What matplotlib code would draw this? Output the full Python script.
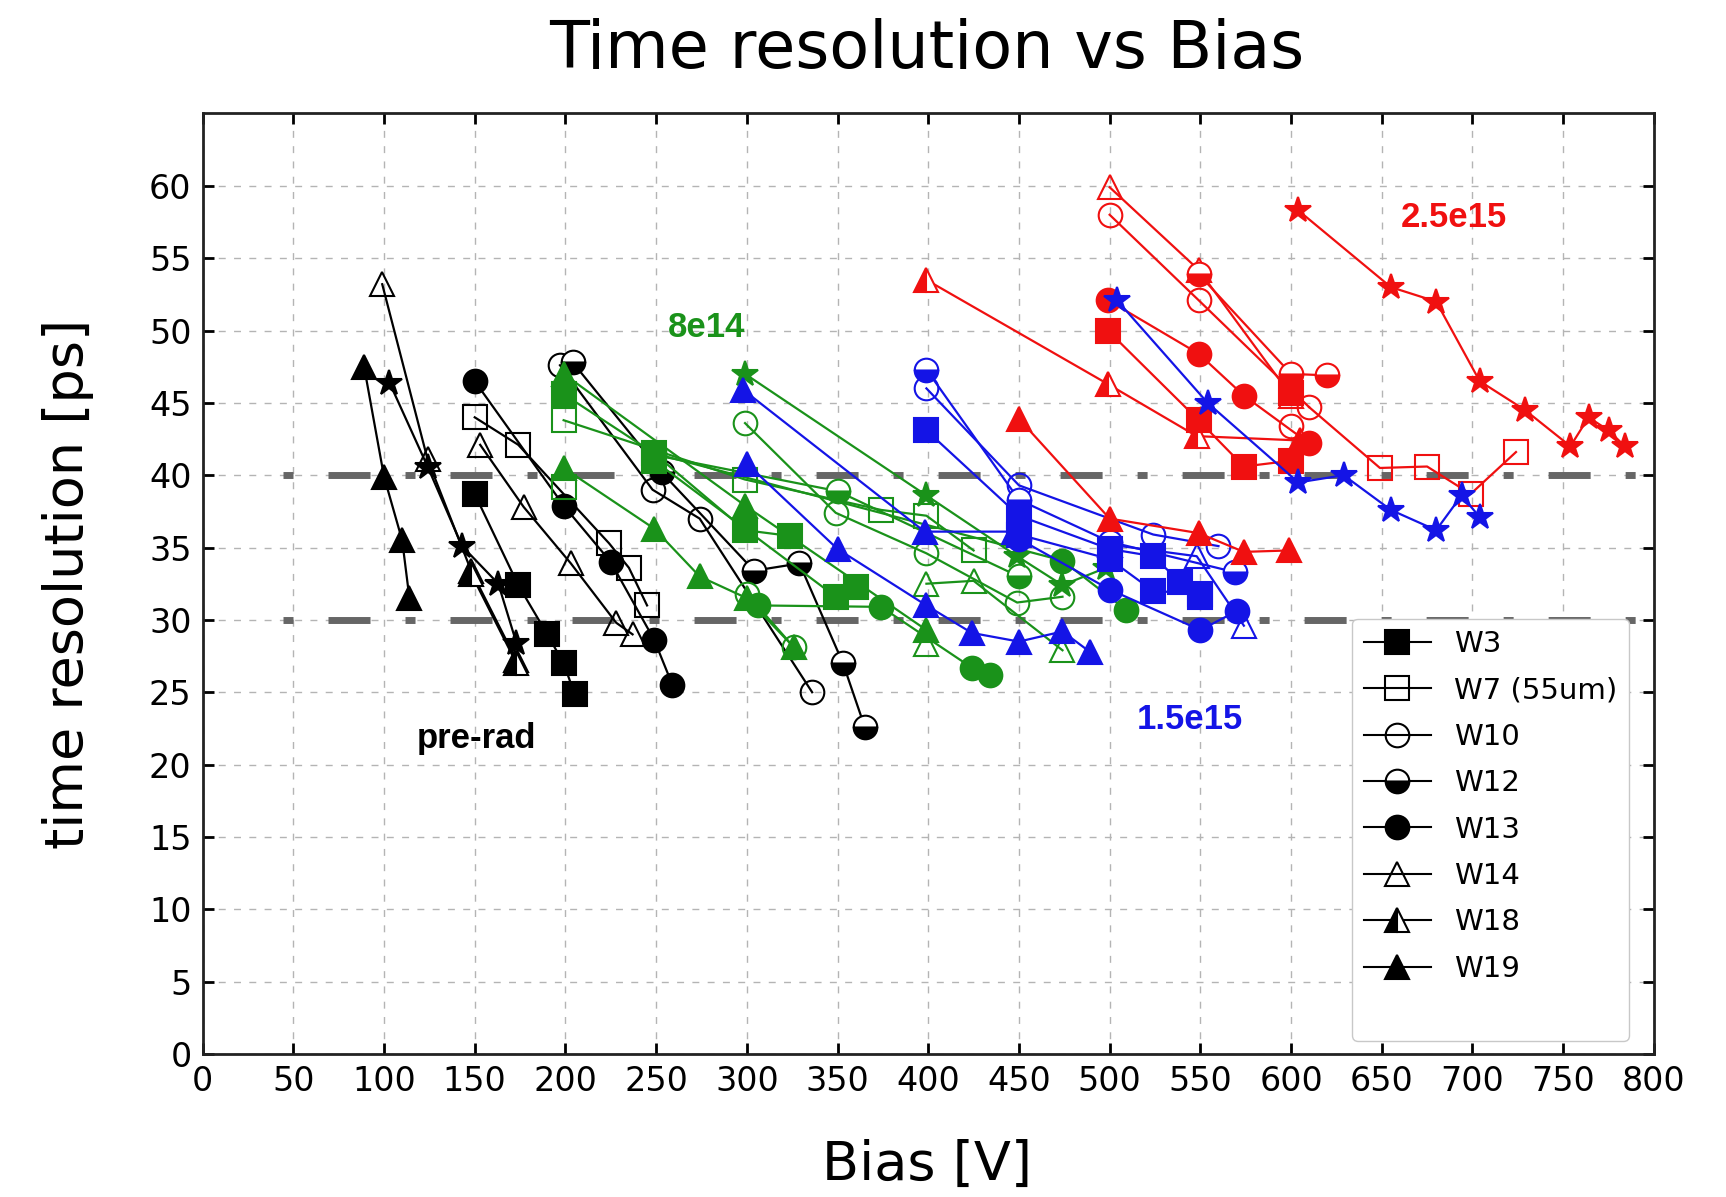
import matplotlib
matplotlib.use("Agg")
import matplotlib.pyplot as plt
from matplotlib.lines import Line2D

# (bias [V], time resolution [ps]) per device
# pre-rad (black)
k_W3 = ([150, 174, 190, 199, 205], [38.7, 32.4, 29.0, 27.0, 24.9])
k_W7 = ([150, 174, 224, 235, 245], [44.0, 42.1, 35.3, 33.6, 31.0])
k_W10 = ([197, 248, 274, 336], [47.6, 39.0, 37.0, 25.0])
k_W12 = ([204, 253, 304, 329, 353, 365], [47.8, 40.2, 33.4, 33.9, 27.0, 22.6])
k_W13 = ([150, 199, 225, 249, 259], [46.5, 37.9, 34.0, 28.6, 25.5])
k_W14a = ([99, 124, 148, 173], [53.2, 41.1, 33.4, 27.2])
k_W14b = ([153, 177, 203, 228, 237], [42.1, 37.8, 33.9, 29.8, 29.0])
k_W18 = ([148, 173], [33.2, 27.0])
k_W19 = ([89, 100, 110, 114], [47.5, 39.9, 35.5, 31.5])
k_star = ([103, 124, 143, 163, 173], [46.4, 40.6, 35.1, 32.5, 28.4])

# 8e14 (green)
g_W3a = ([199, 249, 299, 324], [45.6, 41.5, 36.2, 35.8])
g_W3b = ([249, 349, 360], [41.0, 31.6, 32.3])
g_W7a = ([199, 299, 374, 399, 425], [43.8, 39.7, 37.6, 37.2, 34.8])
g_W7b = ([199], [39.2])
g_W10a = ([299, 349, 399, 449, 474], [43.6, 37.4, 34.6, 31.2, 31.6])
g_W10b = ([300, 326], [31.8, 28.1])
g_W12 = ([249, 350, 450], [41.4, 38.9, 33.0])
g_W13a = ([306, 374, 424, 434], [31.0, 30.9, 26.7, 26.2])
g_W13b = ([249, 474, 509], [41.5, 34.1, 30.7])
g_W14a = ([399, 425, 474], [32.5, 32.7, 27.9])
g_W14b = ([399], [28.3])
g_W19a = ([199, 249, 274, 300, 326], [40.5, 36.3, 33.0, 31.5, 28.1])
g_W19b = ([199, 299, 399], [47.0, 37.9, 29.3])
g_star = ([299, 399, 449, 474, 498], [47.0, 38.6, 34.4, 32.4, 33.6])

# 1.5e15 (blue)
b_W3a = ([399, 450, 500, 524, 539, 550], [43.1, 37.2, 34.9, 34.4, 32.6, 31.6])
b_W3b = ([450, 500, 524, 550], [35.9, 34.2, 32.0, 31.8])
b_W10 = ([399, 450, 524, 560], [46.0, 39.3, 35.9, 35.1])
b_W12 = ([399, 450, 500, 569], [47.3, 38.3, 35.4, 33.3])
b_W13 = ([450, 500, 550, 570], [35.6, 32.1, 29.3, 30.6])
b_W14 = ([500, 548, 574], [35.2, 34.4, 29.6])
b_W19a = ([298, 398, 447], [45.9, 36.1, 36.1])
b_W19b = ([300, 350, 399, 424, 450, 474, 489], [40.8, 34.9, 31.0, 29.1, 28.5, 29.2, 27.8])
b_star = ([504, 554, 604, 629, 655, 680, 694, 704], [52.1, 45.0, 39.5, 40.0, 37.6, 36.2, 38.6, 37.1])

# 2.5e15 (red)
r_W3a = ([499, 549, 574, 600], [50.0, 43.8, 40.6, 41.0])
r_W3b = ([600], [45.7])
r_W7 = ([610, 649, 675, 699, 724], [44.7, 40.5, 40.6, 38.7, 41.6])
r_W10a = ([500, 549, 610], [58.0, 52.1, 44.7])
r_W10b = ([600], [43.4])
r_W12 = ([549, 600, 620], [53.9, 47.0, 46.9])
r_W13 = ([499, 549, 574, 610], [52.1, 48.4, 45.5, 42.2])
r_W14 = ([500, 549, 600], [59.9, 54.2, 45.5])
r_W18 = ([399, 499, 548, 605], [53.5, 46.3, 42.7, 42.4])
r_W19 = ([450, 500, 549, 574, 599], [43.9, 37.0, 36.0, 34.7, 34.8])
r_star = ([604, 655, 680, 704, 729, 754, 764, 775, 784],
          [58.3, 53.0, 52.0, 46.5, 44.5, 42.0, 44.0, 43.1, 42.0])

thresholds = [40, 30]
wafers = ["W3", "W7", "W10", "W12", "W13", "W14", "W18", "W19"]
wafer_labels = ["W3", "W7 (55um)", "W10", "W12", "W13", "W14", "W18", "W19"]

BLACK, GREEN, BLUE, RED = "black", "#1a921a", "#1414e6", "#f01010"

styles = {
    "W3": dict(marker="s"),
    "W7": dict(marker="s", fillstyle="none"),
    "W10": dict(marker="o", fillstyle="none"),
    "W12": dict(marker="o", fillstyle="bottom", markerfacecoloralt="white"),
    "W13": dict(marker="o"),
    "W14": dict(marker="^", fillstyle="none"),
    "W18": dict(marker="^", fillstyle="left", markerfacecoloralt="white"),
    "W19": dict(marker="^"),
    "star": dict(marker="*", markersize=19),
}

fig = plt.figure(figsize=(17.26, 11.97), dpi=100)
ax = fig.add_axes([0.1174, 0.1195, 0.8408, 0.7857])


def draw(series, wafer, color, **kw):
    x, y = series
    st = dict(markersize=17)
    st.update(styles[wafer])
    st.update(kw)
    ax.plot(x, y, color=color, lw=1.6, mew=1.5, mec=color, mfc=color, zorder=3, **st)


# thick dash-dot reference levels
for yref in thresholds:
    ax.plot([44.4, 800], [yref, yref], color="#666666", lw=5,
            dashes=(1.44, 5.04, 6.05, 5.04), dash_capstyle="butt", zorder=2)

# pre-rad
draw(k_W14a, "W14", BLACK)
draw(k_W18, "W18", BLACK)
draw(k_W19, "W19", BLACK)
draw(k_star, "star", BLACK)
draw(k_W14b, "W14", BLACK)
draw(k_W7, "W7", BLACK)
draw(k_W3, "W3", BLACK)
draw(k_W13, "W13", BLACK)
draw(k_W10, "W10", BLACK)
draw(k_W12, "W12", BLACK)

# 8e14
draw(g_W7a, "W7", GREEN)
draw(g_W7b, "W7", GREEN)
draw(g_W10a, "W10", GREEN)
draw(g_W10b, "W10", GREEN)
draw(g_W14a, "W14", GREEN)
draw(g_W14b, "W14", GREEN)
draw(g_W12, "W12", GREEN)
draw(g_W13a, "W13", GREEN)
draw(g_W13b, "W13", GREEN)
draw(g_W19a, "W19", GREEN)
draw(g_W19b, "W19", GREEN)
draw(g_W3a, "W3", GREEN)
draw(g_W3b, "W3", GREEN)
draw(g_star, "star", GREEN)

# 1.5e15
draw(b_W19a, "W19", BLUE)
draw(b_W19b, "W19", BLUE)
draw(b_W13, "W13", BLUE)
draw(b_W14, "W14", BLUE)
draw(b_W10, "W10", BLUE)
draw(b_W12, "W12", BLUE)
draw(b_W3a, "W3", BLUE)
draw(b_W3b, "W3", BLUE)

# 2.5e15
draw(r_W14, "W14", RED)
draw(r_W10a, "W10", RED)
draw(r_W10b, "W10", RED)
draw(r_W7, "W7", RED, markevery=slice(1, None))
draw(r_W12, "W12", RED)
draw(r_W18, "W18", RED)
draw(r_W19, "W19", RED)
draw(r_W13, "W13", RED)
draw(r_W3a, "W3", RED)
draw(r_W3b, "W3", RED)
draw(r_star, "star", RED)

# the blue star device sits on top of the red cluster
draw(b_star, "star", BLUE)

ann_font = dict(fontsize=25, fontweight="bold", family="Liberation Sans",
                ha="center", va="center", zorder=4)
ax.text(151, 21.8, "pre-rad", color=BLACK, **ann_font)
ax.text(278, 50.2, "8e14", color=GREEN, **ann_font)
ax.text(544, 23.1, "1.5e15", color=BLUE, **ann_font)
ax.text(690, 57.8, "2.5e15", color=RED, **ann_font)

ax.set_xlim(0, 800)
ax.set_ylim(0, 65)
ax.set_xticks(range(0, 801, 50))
ax.set_yticks(range(0, 61, 5))
ax.grid(True, color="#b4b4b4", lw=1.0, ls=(0, (5, 6)))
ax.set_axisbelow(True)
ax.tick_params(direction="in", length=8, width=2, top=True, right=True,
               labelsize=24, pad=8)
for sp in ax.spines.values():
    sp.set_linewidth(2)
    sp.set_color("#222222")

handles = []
for w in wafers:
    st = dict(markersize=17)
    st.update(styles[w])
    handles.append(Line2D([], [], color=BLACK, lw=1.5, mew=1.5, mec=BLACK, mfc=BLACK, **st))
handles.append(Line2D([], [], linestyle="none"))
leg = ax.legend(handles, wafer_labels + [" "], loc="upper left",
                bbox_to_anchor=(0.792, 0.463), borderaxespad=0, fontsize=21,
                handlelength=2.3, labelspacing=0.63, borderpad=0.4,
                fancybox=True, framealpha=1)
leg.get_frame().set_edgecolor("#c8c8c8")
leg.set_zorder(5)

fig.text(0.537, 0.958, "Time resolution vs Bias", ha="center", va="center", fontsize=47)
fig.text(0.537, 0.027, "Bias [V]", ha="center", va="center", fontsize=39)
fig.text(0.0394, 0.5124, "time resolution [ps]", ha="center", va="center",
         rotation=90, fontsize=39)

fig.savefig("out.png", dpi=100)
